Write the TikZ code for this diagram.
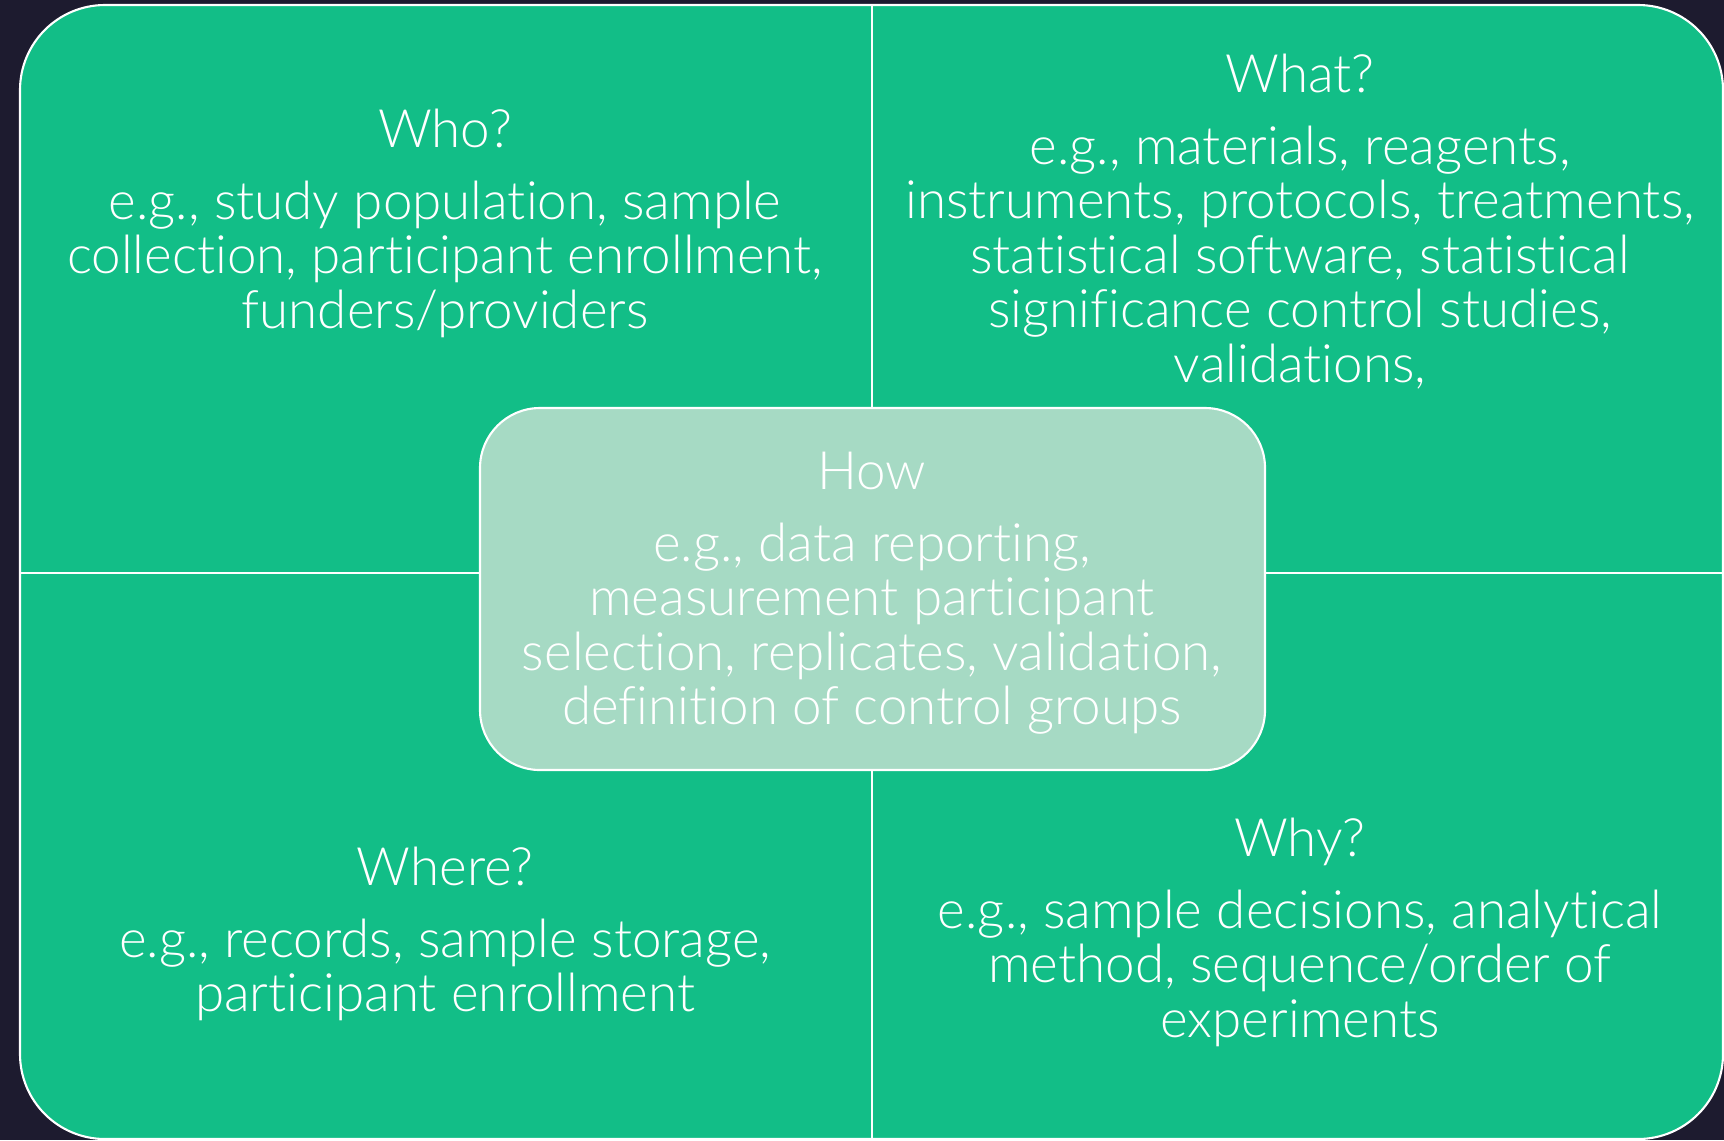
\documentclass[tikz,border=0pt]{standalone}
\usepackage{fontspec}
\setmainfont{Lato}[UprightFont={* Light},Ligatures=NoCommon]
\usetikzlibrary{positioning}
\definecolor{BackClr}{HTML}{1D1B2F}
\definecolor{GridClr}{HTML}{12BE87}
\definecolor{HowClr}{HTML}{A6DAC4}

\begin{document}
\begin{tikzpicture}[
  block/.style={align=center,text=white,inner sep=0pt,anchor=north,
    font=\fontsize{15.05}{15.5}\selectfont},
  rule/.style={white,line width=0.6pt}]
\fill[BackClr] (0,0) rectangle (17.24,-11.40);
\useasboundingbox (0,0) rectangle (17.24,-11.40);

% outer panel
\begin{scope}
\clip (0,0) rectangle (17.24,-11.40);
\draw[rule,fill=GridClr,rounded corners=0.85cm] (0.2,-0.05) rectangle (17.23,-11.39);
\end{scope}

% quadrant lines
\coordinate (top) at (8.72,-0.05);
\coordinate (bot) at (8.72,-11.39);
\coordinate (lft) at (0.2,-5.73);
\coordinate (rgt) at (17.23,-5.73);
\draw[rule] (top) -- (bot) (lft) -- (rgt);

\node[rule,draw,fill=HowClr,rounded corners=0.6cm,
  minimum width=7.85cm,minimum height=3.62cm] (howbox) at (8.725,-5.89) {};

\node[block] (who) at (4.45,-1.08) {Who?\\[5pt]
  e.g., study population, sample\\
  collection, participant enrollment,\\
  funders/providers};
\node[block] (what) at (13.00,-0.53) {What?\\[5pt]
  e.g., materials, reagents,\\
  instruments, protocols, treatments,\\
  statistical software, statistical\\
  significance control studies,\\
  validations,};
\node[block] (how) at (8.72,-4.51) {How\\[5pt]
  e.g., data reporting,\\
  measurement participant\\
  selection, replicates, validation,\\
  definition of control groups};
\node[block] (where) at (4.45,-8.46) {Where?\\[5pt]
  e.g., records, sample storage,\\
  participant enrollment};
\node[block] (why) at (13.00,-8.17) {Why?\\[5pt]
  e.g., sample decisions, analytical\\
  method, sequence/order of\\
  experiments};
\end{tikzpicture}
\end{document}
